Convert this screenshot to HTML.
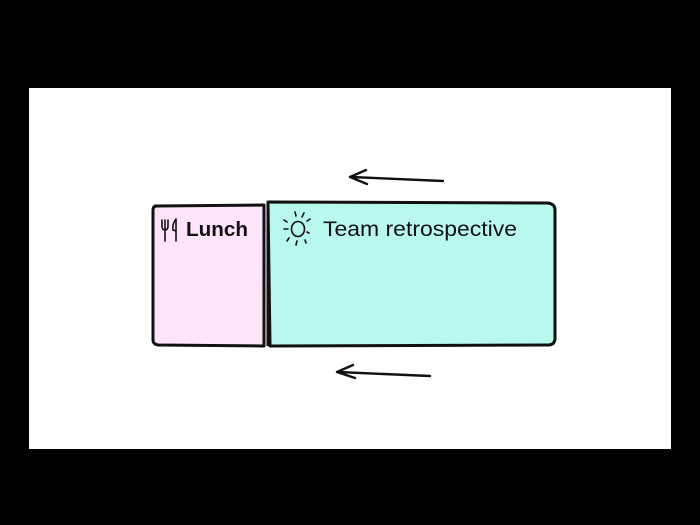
<!DOCTYPE html>
<html><head><meta charset="utf-8"><style>
html,body{margin:0;padding:0;background:#000;width:700px;height:525px;overflow:hidden}
svg{display:block}
text{font-family:"Liberation Sans",sans-serif;fill:#111}
</style></head><body>
<svg width="700" height="525" viewBox="0 0 700 525">
<rect x="0" y="0" width="700" height="525" fill="#000"/>
<rect x="29" y="88" width="642" height="361" fill="#fff"/>
<path d="M155,206 L264,205 L264,346 L158,345 Q153,344 153,340 L153,210 Q153,206 157,206 Z" fill="#fde4fb" stroke="#111" stroke-width="3" stroke-linejoin="round"/>
<path d="M268,202 L548,203 Q555,204 555,210 L555,338 Q555,345 548,345 L270,346 L268,202 Z" fill="#b8f8ef" stroke="#111" stroke-width="3" stroke-linejoin="round"/>
<line x1="268" y1="202" x2="268" y2="346" stroke="#111" stroke-width="3"/>
<g stroke="#111" stroke-width="1.6" fill="none" stroke-linecap="round">
<path d="M162,220 L162,226 Q162,230 165,230 Q168,230 168,226 L168,220 M165,220 L165,241"/>
<path d="M176,219 Q172,224 173,230 L176,231 L176,241 M176,219 L176,231"/>
</g>
<text x="186" y="236" font-size="20" textLength="62" lengthAdjust="spacingAndGlyphs" style="font-weight:600">Lunch</text>
<g stroke="#111" stroke-width="1.6" fill="none" stroke-linecap="round">
<ellipse cx="298" cy="229" rx="6.5" ry="7.5"/>
<path d="M295,212 L296,216 M304,213 L302,217 M310,219 L307,221 M284,220 L287,222 M284,229 L288,229 M309,233 L307,232 M287,241 L289,238 M296,245 L297,241 M306,243 L305,240"/>
</g>
<text x="323" y="236" font-size="21" textLength="194" lengthAdjust="spacingAndGlyphs">Team retrospective</text>
<g stroke="#111" stroke-width="2.4" fill="none" stroke-linecap="round" stroke-linejoin="round">
<path d="M443,181 L351,177"/>
<path d="M366,170 L350,177 L367,184"/>
<path d="M430,376 L338,372"/>
<path d="M353,365 L337,372 L355,378"/>
</g>
</svg>
</body></html>
